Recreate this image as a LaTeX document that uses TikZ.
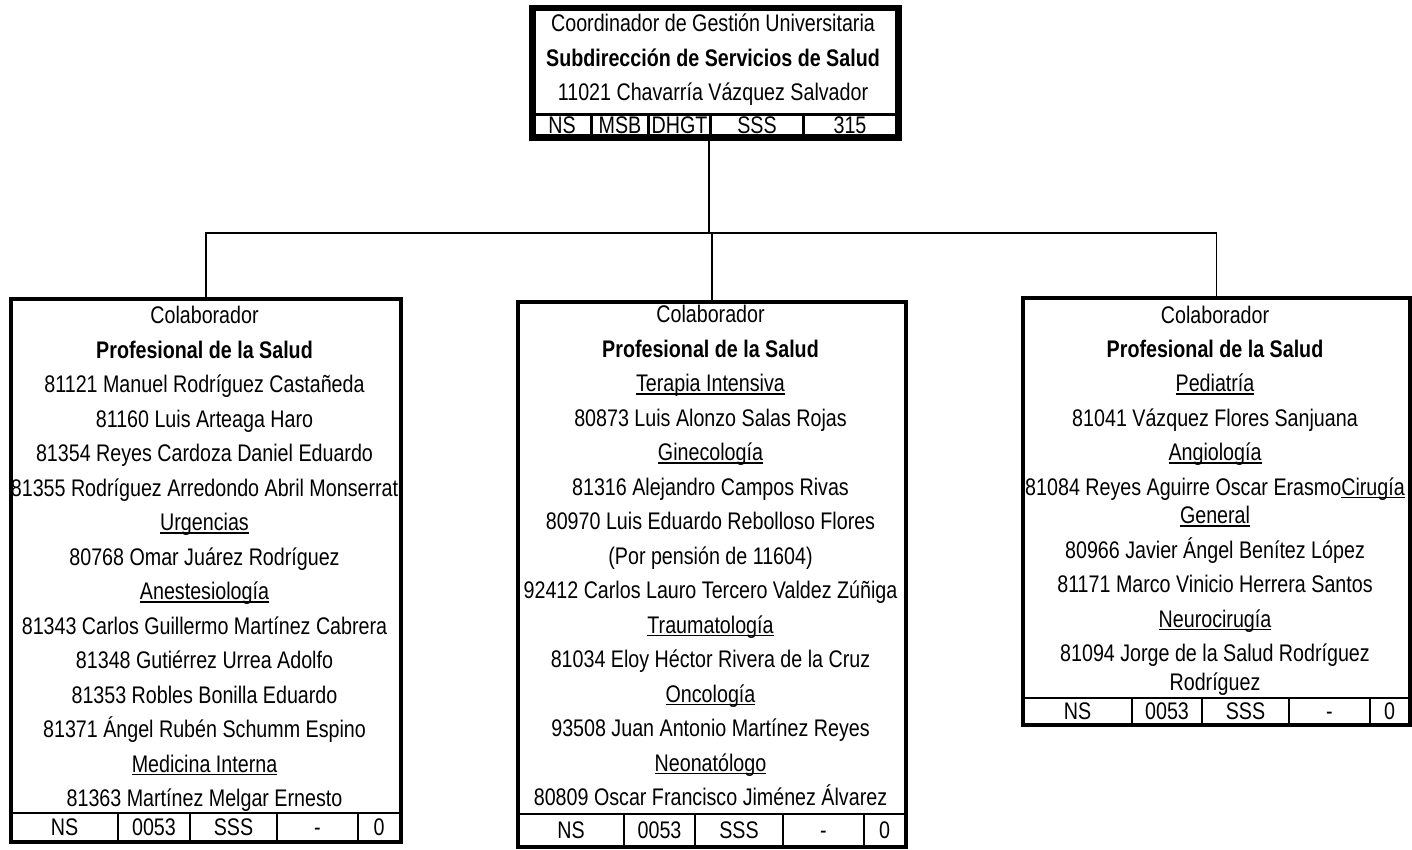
\documentclass[tikz,border=0pt]{standalone}
\usepackage{fontspec}
\setmainfont[FakeStretch=0.82]{Liberation Sans}
\newcommand\uln[1]{\setbox0\hbox{#1}\rlap{\rule[-3pt]{\wd0}{1.4pt}}\box0}
\begin{document}
\begin{tikzpicture}[x=1pt,y=-1pt,
  every node/.style={font=\fontsize{24}{28}\selectfont},
  orgbox/.style={draw, line width=2.5pt, inner sep=0pt, anchor=north west},
  headbox/.style={draw, line width=4.5pt, inner sep=0pt, anchor=north west},
  cell/.style={draw, line width=2pt, inner sep=0pt, anchor=north west, text height=17pt, text depth=0pt},
  headcell/.style={cell, line width=3pt},
  txt/.style={inner sep=0pt, text height=17pt, text depth=0pt},
  link/.style={draw, line width=1.5pt}]
\useasboundingbox (0,0) rectangle (1412,850);
\newcommand\mkcell[7]{\node[#1, minimum width=#4pt-#3pt, minimum height=#6pt-#5pt] (#2) at (#3,#5) {#7};}
% ---------- top box ----------
\node[headbox, minimum width=364pt, minimum height=127pt] (T) at (531,7) {};
\node[txt] (T-t1) at (713,23) {Coordinador de Gestión Universitaria};
\node[txt] (T-t2) at (713,58) {\textbf{Subdirección de Servicios de Salud}};
\node[txt] (T-t3) at (713,92) {11021 Chavarría Vázquez Salvador};
\mkcell{headcell}{T-c1}{531}{590}{113}{134}{NS}
\mkcell{headcell}{T-c2}{590}{647}{113}{134}{MSB}
\mkcell{headcell}{T-c3}{647}{709}{113}{134}{DHGT}
\mkcell{headcell}{T-c4}{709}{802}{113}{134}{SSS}
\mkcell{headcell}{T-c5}{802}{895}{113}{134}{315}
\draw[line width=4.5pt] (T.north west) rectangle (T.south east);
% ---------- left box ----------
\node[orgbox, minimum width=389pt, minimum height=542pt] (L) at (10,298) {};
\foreach \yy/\lbl [count=\i] in {
  315/Colaborador,
  349.5/\textbf{Profesional de la Salud},
  384/81121 Manuel Rodríguez Castañeda,
  418.5/81160 Luis Arteaga Haro,
  453/81354 Reyes Cardoza Daniel Eduardo,
  487.5/81355 Rodríguez Arredondo Abril Monserrat,
  522/\uln{Urgencias},
  556.5/80768 Omar Juárez Rodríguez,
  591/\uln{Anestesiología},
  625.5/81343 Carlos Guillermo Martínez Cabrera,
  660/81348 Gutiérrez Urrea Adolfo,
  694.5/81353 Robles Bonilla Eduardo,
  729/81371 Ángel Rubén Schumm Espino,
  763.5/\uln{Medicina Interna},
  798/81363 Martínez Melgar Ernesto}
  \node[txt] (L-t\i) at (204.5,\yy) {\lbl};
\mkcell{cell}{L-c1}{10}{117}{812}{840}{NS}
\mkcell{cell}{L-c2}{117}{189}{812}{840}{0053}
\mkcell{cell}{L-c3}{189}{276}{812}{840}{SSS}
\mkcell{cell}{L-c4}{276}{357}{812}{840}{-}
\mkcell{cell}{L-c5}{357}{399}{812}{840}{0}
\draw[line width=2.5pt] (L.north west) rectangle (L.south east);
% ---------- middle box ----------
\node[orgbox, minimum width=387pt, minimum height=544pt] (M) at (517,301) {};
\foreach \yy/\lbl [count=\i] in {
  314/Colaborador,
  348.5/\textbf{Profesional de la Salud},
  383/\uln{Terapia Intensiva},
  417.5/80873 Luis Alonzo Salas Rojas,
  452/\uln{Ginecología},
  486.5/81316 Alejandro Campos Rivas,
  521/80970 Luis Eduardo Rebolloso Flores,
  555.5/(Por pensión de 11604),
  590/92412 Carlos Lauro Tercero Valdez Zúñiga,
  624.5/\uln{Traumatología},
  659/81034 Eloy Héctor Rivera de la Cruz,
  693.5/\uln{Oncología},
  728/93508 Juan Antonio Martínez Reyes,
  762.5/\uln{Neonatólogo},
  797/80809 Oscar Francisco Jiménez Álvarez}
  \node[txt] (M-t\i) at (710.5,\yy) {\lbl};
\mkcell{cell}{M-c1}{517}{623}{813}{845}{NS}
\mkcell{cell}{M-c2}{623}{694}{813}{845}{0053}
\mkcell{cell}{M-c3}{694}{782}{813}{845}{SSS}
\mkcell{cell}{M-c4}{782}{863}{813}{845}{-}
\mkcell{cell}{M-c5}{863}{904}{813}{845}{0}
\draw[line width=2.5pt] (M.north west) rectangle (M.south east);
% ---------- right box ----------
\node[orgbox, minimum width=386pt, minimum height=426pt] (R) at (1022,297) {};
\foreach \yy/\lbl [count=\i] in {
  315/Colaborador,
  348.5/\textbf{Profesional de la Salud},
  383/\uln{Pediatría},
  417.5/81041 Vázquez Flores Sanjuana,
  452/\uln{Angiología},
  486.5/81084 Reyes Aguirre Oscar Erasmo\uln{Cirugía},
  515/\uln{General},
  549.5/80966 Javier Ángel Benítez López,
  584/81171 Marco Vinicio Herrera Santos,
  618.5/\uln{Neurocirugía},
  653/81094 Jorge de la Salud Rodríguez,
  681.5/Rodríguez}
  \node[txt] (R-t\i) at (1215,\yy) {\lbl};
\mkcell{cell}{R-c1}{1022}{1131}{697}{723}{NS}
\mkcell{cell}{R-c2}{1131}{1201}{697}{723}{0053}
\mkcell{cell}{R-c3}{1201}{1288}{697}{723}{SSS}
\mkcell{cell}{R-c4}{1288}{1369}{697}{723}{-}
\mkcell{cell}{R-c5}{1369}{1408}{697}{723}{0}
\draw[line width=2.5pt] (R.north west) rectangle (R.south east);
% ---------- connectors ----------
\coordinate (bus) at (709,233);
\draw[link] (T-c4.south west) -- (bus);
\draw[link] (L.north) |- (bus) -| (R.north);
\draw[link] (M.north) -- (M.north |- bus);
\end{tikzpicture}
\end{document}
